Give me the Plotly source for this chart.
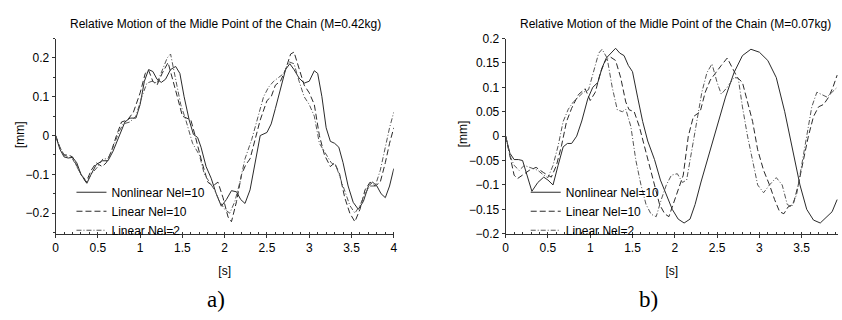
import plotly.graph_objects as go

# ---------------- data: left panel (M=0.42kg) ----------------
a_nl_t = [0, 0.05, 0.1, 0.15, 0.2, 0.25, 0.3, 0.37, 0.42, 0.48, 0.55, 0.62, 0.68, 0.75, 0.82, 0.88, 0.95,
          1.0, 1.05, 1.1, 1.15, 1.2, 1.25, 1.3, 1.36, 1.42, 1.47, 1.52, 1.58, 1.63, 1.68, 1.72, 1.78, 1.84,
          1.9, 1.96, 2.02, 2.08, 2.14, 2.19, 2.24, 2.3, 2.36, 2.42, 2.5, 2.55, 2.6, 2.66, 2.72, 2.77, 2.82,
          2.88, 2.94, 3.0, 3.06, 3.1, 3.15, 3.2, 3.25, 3.3, 3.35, 3.4, 3.46, 3.52, 3.58, 3.64, 3.7, 3.75,
          3.8, 3.85, 3.9, 3.95, 4.0]
a_nl_v = [0, -0.035, -0.055, -0.058, -0.056, -0.07, -0.1, -0.123, -0.1, -0.075, -0.065, -0.065, -0.04,
          0.0, 0.035, 0.045, 0.045, 0.08, 0.14, 0.17, 0.165, 0.145, 0.137, 0.145, 0.17, 0.178, 0.16, 0.1,
          0.04, 0.003, -0.005, -0.03, -0.08, -0.11, -0.15, -0.182, -0.165, -0.142, -0.145, -0.165, -0.175,
          -0.14, -0.07, 0.0, 0.008, 0.03, 0.07, 0.12, 0.17, 0.185, 0.17, 0.148, 0.135, 0.14, 0.167, 0.16,
          0.1, 0.02, -0.015, -0.02, -0.03, -0.07, -0.13, -0.172, -0.19, -0.17, -0.13, -0.12, -0.13, -0.15,
          -0.16, -0.13, -0.085]

a_l10_t = [0, 0.05, 0.1, 0.15, 0.2, 0.3, 0.36, 0.42, 0.48, 0.55, 0.6, 0.66, 0.72, 0.78, 0.85, 0.92, 1.0,
           1.06, 1.1, 1.15, 1.2, 1.26, 1.33, 1.38, 1.44, 1.5, 1.56, 1.6, 1.65, 1.72, 1.8, 1.86, 1.92, 1.98,
           2.04, 2.08, 2.14, 2.2, 2.25, 2.3, 2.36, 2.42, 2.5, 2.55, 2.6, 2.66, 2.72, 2.78, 2.82, 2.88, 2.94,
           3.0, 3.06, 3.12, 3.18, 3.25, 3.3, 3.36, 3.42, 3.48, 3.54, 3.6, 3.66, 3.72, 3.78, 3.84, 3.9, 3.95, 4.0]
a_l10_v = [0, -0.03, -0.05, -0.05, -0.055, -0.1, -0.12, -0.09, -0.07, -0.08, -0.07, -0.04, 0.0, 0.035,
           0.04, 0.06, 0.11, 0.16, 0.168, 0.14, 0.13, 0.16, 0.188, 0.15, 0.1, 0.05, 0.045, 0.04, 0.0, -0.06,
           -0.12, -0.13, -0.12, -0.16, -0.21, -0.222, -0.17, -0.1, -0.075, -0.06, -0.01, 0.04, 0.09, 0.1,
           0.13, 0.14, 0.17, 0.21, 0.215, 0.17, 0.13, 0.11, 0.08, 0.0, -0.05, -0.08, -0.07, -0.1, -0.16,
           -0.2, -0.222, -0.19, -0.14, -0.12, -0.13, -0.12, -0.07, -0.02, 0.02]

a_l2_t = [0, 0.05, 0.1, 0.15, 0.2, 0.3, 0.37, 0.42, 0.5, 0.56, 0.62, 0.68, 0.75, 0.8, 0.88, 0.95, 1.02,
          1.08, 1.14, 1.2, 1.26, 1.32, 1.36, 1.42, 1.48, 1.54, 1.62, 1.7, 1.76, 1.82, 1.88, 1.94, 2.0, 2.06,
          2.12, 2.18, 2.24, 2.32, 2.4, 2.46, 2.52, 2.58, 2.64, 2.7, 2.76, 2.82, 2.88, 2.94, 3.0, 3.06, 3.12,
          3.2, 3.26, 3.32, 3.4, 3.48, 3.54, 3.6, 3.66, 3.72, 3.78, 3.84, 3.9, 3.95, 4.0]
a_l2_v = [0, -0.03, -0.05, -0.055, -0.06, -0.1, -0.118, -0.1, -0.08, -0.06, -0.06, -0.03, 0.01, 0.03,
          0.035, 0.05, 0.1, 0.135, 0.14, 0.135, 0.17, 0.2, 0.21, 0.14, 0.08, 0.04, -0.02, -0.05, -0.1,
          -0.12, -0.14, -0.17, -0.19, -0.2, -0.17, -0.12, -0.06, -0.01, 0.05, 0.1, 0.125, 0.14, 0.15, 0.16,
          0.19, 0.185, 0.14, 0.1, 0.08, 0.05, -0.02, -0.05, -0.07, -0.08, -0.13, -0.18, -0.2, -0.18, -0.15,
          -0.13, -0.13, -0.09, -0.03, 0.02, 0.06]

# ---------------- data: right panel (M=0.07kg) ----------------
b_nl_t = [0, 0.05, 0.1, 0.15, 0.2, 0.25, 0.31, 0.38, 0.45, 0.5, 0.56, 0.62, 0.68, 0.73, 0.78, 0.84, 0.9,
          0.97, 1.03, 1.09, 1.14, 1.19, 1.24, 1.3, 1.35, 1.4, 1.45, 1.5, 1.56, 1.62, 1.68, 1.76, 1.83, 1.9,
          1.97, 2.04, 2.11, 2.18, 2.24, 2.31, 2.4, 2.5, 2.6, 2.7, 2.8, 2.9, 3.0, 3.1, 3.2, 3.3, 3.4, 3.48,
          3.56, 3.64, 3.72, 3.8, 3.86, 3.92]
b_nl_v = [0, -0.035, -0.048, -0.048, -0.05, -0.08, -0.113, -0.095, -0.084, -0.09, -0.1, -0.06, -0.022,
          -0.015, -0.015, 0.0, 0.031, 0.076, 0.1, 0.11, 0.14, 0.16, 0.17, 0.18, 0.17, 0.165, 0.145, 0.132,
          0.08, 0.03, -0.01, -0.048, -0.09, -0.12, -0.15, -0.17, -0.178, -0.17, -0.14, -0.094, -0.04, 0.02,
          0.08, 0.13, 0.165, 0.178, 0.172, 0.155, 0.12, 0.05, -0.03, -0.1, -0.15, -0.172, -0.178, -0.165,
          -0.155, -0.13]

b_l10_t = [0, 0.05, 0.1, 0.14, 0.2, 0.28, 0.36, 0.45, 0.54, 0.6, 0.66, 0.72, 0.78, 0.86, 0.94, 1.0, 1.06,
           1.12, 1.18, 1.24, 1.3, 1.36, 1.42, 1.46, 1.52, 1.58, 1.64, 1.7, 1.76, 1.82, 1.88, 1.93, 1.98,
           2.04, 2.1, 2.16, 2.22, 2.3, 2.36, 2.42, 2.48, 2.55, 2.62, 2.68, 2.74, 2.8, 2.86, 2.92, 2.98, 3.05,
           3.12, 3.18, 3.24, 3.29, 3.34, 3.4, 3.46, 3.52, 3.58, 3.64, 3.7, 3.76, 3.82, 3.87, 3.92]
b_l10_v = [0, -0.04, -0.08, -0.087, -0.08, -0.07, -0.064, -0.075, -0.084, -0.06, -0.02, 0.03, 0.057,
           0.085, 0.097, 0.073, 0.09, 0.13, 0.155, 0.162, 0.155, 0.12, 0.07, 0.054, 0.05, 0.02, -0.02, -0.06,
           -0.1, -0.14, -0.159, -0.165, -0.14, -0.11, -0.08, 0.0, 0.04, 0.05, 0.09, 0.115, 0.13, 0.145, 0.16,
           0.14, 0.12, 0.11, 0.07, 0.03, -0.028, -0.07, -0.1, -0.13, -0.155, -0.159, -0.145, -0.14, -0.1,
           -0.05, 0.0, 0.04, 0.06, 0.065, 0.08, 0.1, 0.125]

b_l2_t = [0, 0.05, 0.1, 0.16, 0.22, 0.3, 0.38, 0.45, 0.5, 0.56, 0.62, 0.68, 0.74, 0.8, 0.86, 0.92, 0.98,
          1.04, 1.1, 1.14, 1.2, 1.26, 1.32, 1.38, 1.42, 1.48, 1.54, 1.6, 1.66, 1.72, 1.78, 1.84, 1.9, 1.96,
          2.03, 2.09, 2.14, 2.2, 2.26, 2.32, 2.38, 2.44, 2.5, 2.55, 2.62, 2.7, 2.75, 2.8, 2.86, 2.92, 2.98,
          3.05, 3.12, 3.2, 3.27, 3.33, 3.38, 3.44, 3.5, 3.56, 3.62, 3.68, 3.74, 3.8, 3.86, 3.92]
b_l2_v = [0, -0.04, -0.06, -0.07, -0.06, -0.065, -0.07, -0.08, -0.085, -0.06, -0.02, 0.03, 0.055, 0.07,
          0.08, 0.09, 0.095, 0.13, 0.17, 0.178, 0.16, 0.1, 0.054, 0.05, 0.055, 0.02, -0.05, -0.1, -0.14,
          -0.16, -0.165, -0.13, -0.1, -0.08, -0.077, -0.095, -0.09, -0.03, 0.03, 0.09, 0.13, 0.148, 0.11,
          0.086, 0.1, 0.12, 0.119, 0.06, 0.0, -0.05, -0.1, -0.116, -0.1, -0.085, -0.1, -0.14, -0.145, -0.12,
          -0.06, 0.0, 0.06, 0.09, 0.085, 0.08, 0.09, 0.1]

series_names = ["Nonlinear Nel=10", "Linear Nel=10", "Linear Nel=2"]
titles = ["Relative Motion of the Midle Point of the Chain (M=0.42kg)",
          "Relative Motion of the Midle Point of the Chain (M=0.07kg)"]
captions = ["a)", "b)"]
x_label = "[s]"
y_label = "[mm]"

FONT = "Liberation Sans, Arial, sans-serif"
SERIF = "Liberation Serif, Times New Roman, serif"
styles = [dict(color="#2a2a2a", width=1, dash="solid"),
          dict(color="#2a2a2a", width=1, dash="6px,3px"),
          dict(color="#555555", width=1, dash="5px,2px,1px,2px")]

fig = go.Figure()
panels = [
    ([(a_nl_t, a_nl_v), (a_l10_t, a_l10_v), (a_l2_t, a_l2_v)], "x", "y", "legend"),
    ([(b_nl_t, b_nl_v), (b_l10_t, b_l10_v), (b_l2_t, b_l2_v)], "x2", "y2", "legend2"),
]
for series, xa, ya, lg in panels:
    for (t, v), name, st in zip(series, series_names, styles):
        fig.add_trace(go.Scatter(x=t, y=v, mode="lines", name=name, line=st,
                                 xaxis=xa, yaxis=ya, legend=lg))

tickfont = dict(family=FONT, size=12, color="#000")
common_x = dict(showline=True, linecolor="#333", linewidth=1, showgrid=False, zeroline=False,
                ticks="outside", ticklen=3, tickcolor="#333", tickfont=tickfont, dtick=0.5,
                minor=dict(ticks="inside", ticklen=2, dtick=0.1, tickcolor="#333"),
                title=dict(text=x_label, font=dict(family=FONT, size=12, color="#000"), standoff=12))
common_y = dict(showline=True, linecolor="#333", linewidth=1, showgrid=False, zeroline=False,
                ticks="outside", ticklen=3, tickcolor="#333", tickfont=tickfont)

legend_common = dict(bgcolor="rgba(0,0,0,0)", borderwidth=0, font=dict(family=FONT, size=12, color="#000"),
                     xanchor="left", yanchor="top", tracegroupgap=0, itemwidth=30)

ann_font = dict(family=FONT, size=12, color="#000")
fig.update_layout(
    width=842, height=320,
    margin=dict(l=0, r=0, t=0, b=0),
    paper_bgcolor="white", plot_bgcolor="white",
    showlegend=True,
    xaxis=dict(common_x, domain=[0.063, 0.468], range=[0, 4], anchor="y"),
    yaxis=dict(common_y, domain=[0.259, 0.897], range=[-0.253, 0.25], dtick=0.1, anchor="x",
               tickformat="~g", minor=dict(ticks="outside", ticklen=2, dtick=0.05, tickcolor="#333")),
    xaxis2=dict(common_x, domain=[0.602, 1.0], range=[0, 3.93], anchor="y2"),
    yaxis2=dict(common_y, domain=[0.259, 0.897], range=[-0.2, 0.2], dtick=0.05, anchor="x2",
                tickformat="~g"),
    legend=dict(legend_common, x=0.082, y=0.442),
    legend2=dict(legend_common, x=0.626, y=0.442),
    annotations=[
        dict(text=titles[0], x=0.267, y=1 - 18 / 320, xref="paper", yref="paper", showarrow=False,
             font=ann_font, xanchor="center", yanchor="middle"),
        dict(text=titles[1], x=0.805, y=1 - 18 / 320, xref="paper", yref="paper", showarrow=False,
             font=ann_font, xanchor="center", yanchor="middle"),
        dict(text=y_label, x=17 / 842, y=1 - 133 / 320, xref="paper", yref="paper", showarrow=False,
             font=ann_font, textangle=-90, xanchor="center", yanchor="middle"),
        dict(text=y_label, x=464 / 842, y=1 - 133 / 320, xref="paper", yref="paper", showarrow=False,
             font=ann_font, textangle=-90, xanchor="center", yanchor="middle"),
        dict(text=captions[0], x=215 / 842, y=1 - 306 / 320, xref="paper", yref="paper", showarrow=False,
             font=dict(family=SERIF, size=23, color="#000"), xanchor="center", yanchor="middle"),
        dict(text=captions[1], x=651 / 842, y=1 - 306 / 320, xref="paper", yref="paper", showarrow=False,
             font=dict(family=SERIF, size=23, color="#000"), xanchor="center", yanchor="middle"),
    ],
)

fig.write_html("out.html", config={"displayModeBar": False},
               post_script="document.body.style.margin='0';document.body.style.overflow='hidden';")
